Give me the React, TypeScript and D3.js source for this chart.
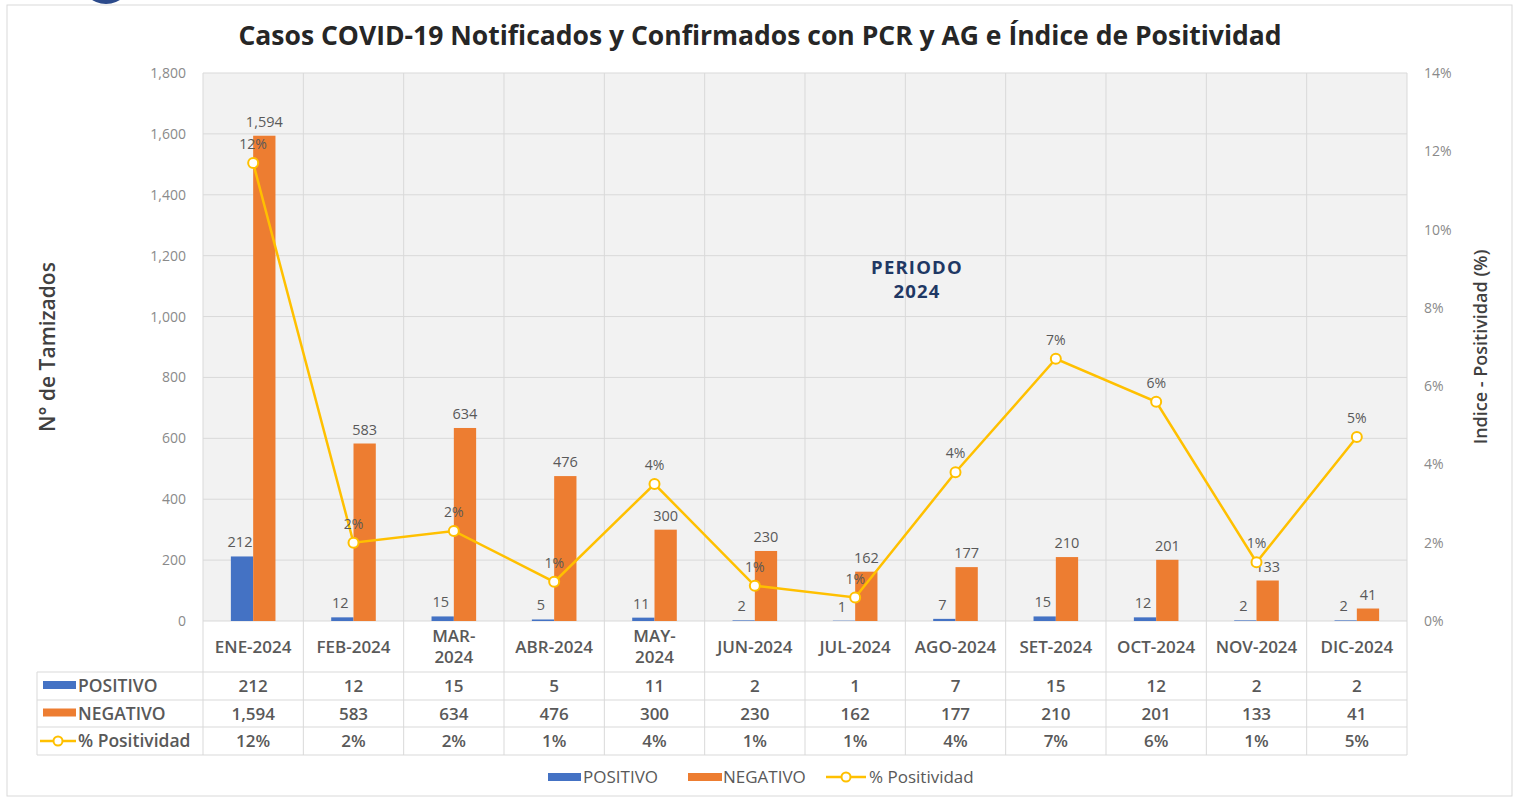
import React, { useRef, useEffect } from "react";
import * as d3 from "d3";

const months = ["ENE-2024", "FEB-2024", "MAR-2024", "ABR-2024", "MAY-2024", "JUN-2024",
  "JUL-2024", "AGO-2024", "SET-2024", "OCT-2024", "NOV-2024", "DIC-2024"];
const monthLines = [["ENE-2024"], ["FEB-2024"], ["MAR-", "2024"], ["ABR-2024"], ["MAY-", "2024"], ["JUN-2024"],
  ["JUL-2024"], ["AGO-2024"], ["SET-2024"], ["OCT-2024"], ["NOV-2024"], ["DIC-2024"]];
const positivo = [212, 12, 15, 5, 11, 2, 1, 7, 15, 12, 2, 2];
const negativo = [1594, 583, 634, 476, 300, 230, 162, 177, 210, 201, 133, 41];
const positividad = [11.7, 2.0, 2.3, 1.0, 3.5, 0.9, 0.6, 3.8, 6.7, 5.6, 1.5, 4.7];
const positividadLabels = ["12%", "2%", "2%", "1%", "4%", "1%", "1%", "4%", "7%", "6%", "1%", "5%"];
const leftTicks = [0, 200, 400, 600, 800, 1000, 1200, 1400, 1600, 1800];
const rightTicks = [0, 2, 4, 6, 8, 10, 12, 14];

const BLUE = "#4472c4";
const ORANGE = "#ed7d31";
const GOLD = "#ffc000";
const FONT = "'Open Sans', Lato, sans-serif";

const App = () => {
  const svgRef = useRef<SVGSVGElement>(null);

  useEffect(() => {
    document.body.style.margin = "0";
    const svg = d3.select(svgRef.current);
    svg.selectAll("*").remove();

    const left = 203, right = 1407, top = 73, bottom = 621;
    const x = d3.scaleBand<string>().domain(months).range([left, right]);
    const bw = x.bandwidth();
    const xs = d3.scaleBand<string>().domain(["p", "n"]).range([0, bw]).paddingOuter(1.25);
    const y = d3.scaleLinear().domain([0, 1800]).range([bottom, top]);
    const yR = d3.scaleLinear().domain([0, 14]).range([bottom, top]);
    const cx = (m: string) => (x(m) as number) + bw / 2;

    // logo fragment + frame
    svg.append("circle").attr("cx", 106).attr("cy", -22).attr("r", 26).attr("fill", "#2b4a8b");
    svg.append("rect").attr("x", 7).attr("y", 5).attr("width", 1505).attr("height", 791)
      .attr("fill", "#fff").attr("stroke", "#d9d9d9");

    svg.append("text").attr("x", 760).attr("y", 45).attr("text-anchor", "middle")
      .attr("font-family", FONT).attr("font-weight", "bold").attr("font-size", 26.5).attr("fill", "#262626")
      .text("Casos COVID-19 Notificados y Confirmados con PCR y AG e Índice de Positividad");

    // plot area
    svg.append("rect").attr("x", left).attr("y", top).attr("width", right - left).attr("height", bottom - top)
      .attr("fill", "#f2f2f2");
    svg.append("g").selectAll("line").data(leftTicks).join("line")
      .attr("x1", left).attr("x2", right).attr("y1", (d) => y(d)).attr("y2", (d) => y(d))
      .attr("stroke", "#d9d9d9");
    const bounds = months.map((m) => x(m) as number).concat([right]);
    svg.append("g").selectAll("line").data(bounds).join("line")
      .attr("x1", (d) => d).attr("x2", (d) => d).attr("y1", top).attr("y2", 755)
      .attr("stroke", "#d9d9d9");

    // axes labels
    svg.append("g").selectAll("text").data(leftTicks).join("text")
      .attr("x", 186).attr("y", (d) => y(d) + 5).attr("text-anchor", "end")
      .attr("font-family", FONT).attr("font-size", 14).attr("fill", "#8a8a8a")
      .text((d) => d3.format(",")(d));
    svg.append("g").selectAll("text").data(rightTicks).join("text")
      .attr("x", 1424).attr("y", (d) => yR(d) + 5).attr("text-anchor", "start")
      .attr("font-family", FONT).attr("font-size", 14).attr("fill", "#8a8a8a")
      .text((d) => d + "%");
    svg.append("text").attr("transform", "translate(55,347) rotate(-90)").attr("text-anchor", "middle")
      .attr("font-family", FONT).attr("font-weight", 600).attr("font-size", 21).attr("fill", "#404040")
      .text("N° de Tamizados");
    svg.append("text").attr("transform", "translate(1487,347) rotate(-90)").attr("text-anchor", "middle")
      .attr("font-family", FONT).attr("font-weight", 600).attr("font-size", 18).attr("fill", "#404040")
      .text("Indice - Positividad (%)");

    // bars
    const g = svg.append("g");
    g.selectAll("rect.p").data(months).join("rect").attr("class", "p")
      .attr("x", (m) => (x(m) as number) + (xs("p") as number)).attr("width", xs.bandwidth())
      .attr("y", (m, i) => y(positivo[i])).attr("height", (m, i) => bottom - y(positivo[i]))
      .attr("fill", BLUE);
    g.selectAll("rect.n").data(months).join("rect").attr("class", "n")
      .attr("x", (m) => (x(m) as number) + (xs("n") as number)).attr("width", xs.bandwidth())
      .attr("y", (m, i) => y(negativo[i])).attr("height", (m, i) => bottom - y(negativo[i]))
      .attr("fill", ORANGE);
    g.selectAll("text.pl").data(months).join("text").attr("class", "pl")
      .attr("x", (m) => (x(m) as number) + (xs("p") as number) + xs.bandwidth() / 2 - 2)
      .attr("y", (m, i) => y(positivo[i]) - 9).attr("text-anchor", "middle")
      .attr("font-family", FONT).attr("font-size", 14.5).attr("fill", "#595959")
      .text((m, i) => d3.format(",")(positivo[i]));
    g.selectAll("text.nl").data(months).join("text").attr("class", "nl")
      .attr("x", (m) => (x(m) as number) + (xs("n") as number) + xs.bandwidth() / 2)
      .attr("y", (m, i) => y(negativo[i]) - 9).attr("text-anchor", "middle")
      .attr("font-family", FONT).attr("font-size", 14.5).attr("fill", "#595959")
      .text((m, i) => d3.format(",")(negativo[i]));

    // line
    const line = d3.line<number>().x((d, i) => cx(months[i])).y((d) => yR(d));
    g.append("path").datum(positividad).attr("d", line).attr("fill", "none")
      .attr("stroke", GOLD).attr("stroke-width", 2.5);
    g.selectAll("circle").data(positividad).join("circle")
      .attr("cx", (d, i) => cx(months[i])).attr("cy", (d) => yR(d)).attr("r", 5)
      .attr("fill", "#fff").attr("stroke", GOLD).attr("stroke-width", 2);
    g.selectAll("text.ll").data(positividad).join("text").attr("class", "ll")
      .attr("x", (d, i) => cx(months[i])).attr("y", (d) => yR(d) - 14).attr("text-anchor", "middle")
      .attr("font-family", FONT).attr("font-size", 14).attr("fill", "#595959")
      .text((d, i) => positividadLabels[i]);

    svg.append("text").attr("x", 917).attr("y", 274).attr("text-anchor", "middle")
      .attr("font-family", FONT).attr("font-weight", "bold").attr("font-size", 18.5).attr("letter-spacing", 1.2)
      .attr("fill", "#1f3864").text("PERIODO");
    svg.append("text").attr("x", 917).attr("y", 298).attr("text-anchor", "middle")
      .attr("font-family", FONT).attr("font-weight", "bold").attr("font-size", 18.5).attr("letter-spacing", 1.2)
      .attr("fill", "#1f3864").text("2024");

    // data table
    const t = svg.append("g").attr("font-family", FONT).attr("font-weight", 600).attr("fill", "#595959");
    monthLines.forEach((lines, i) => {
      const tx = t.append("text").attr("x", cx(months[i])).attr("text-anchor", "middle").attr("font-size", 17);
      const y0 = lines.length === 1 ? 653 : 642;
      lines.forEach((l, j) => tx.append("tspan").attr("x", cx(months[i])).attr("y", y0 + j * 21).text(l));
    });
    const rowY = [672, 700, 727, 755];
    t.selectAll("line.h").data(rowY).join("line").attr("class", "h")
      .attr("x1", 37).attr("x2", right).attr("y1", (d) => d).attr("y2", (d) => d)
      .attr("stroke", "#d9d9d9");
    t.append("line").attr("x1", 37).attr("x2", 37).attr("y1", 672).attr("y2", 755).attr("stroke", "#d9d9d9");
    const rows = [
      { name: "POSITIVO", vals: positivo.map((v) => d3.format(",")(v)) },
      { name: "NEGATIVO", vals: negativo.map((v) => d3.format(",")(v)) },
      { name: "% Positividad", vals: positividadLabels },
    ];
    rows.forEach((r, k) => {
      const ry = (rowY[k] + rowY[k + 1]) / 2;
      if (k < 2) {
        t.append("rect").attr("x", 43).attr("y", ry - 5).attr("width", 33).attr("height", 8)
          .attr("fill", k === 0 ? BLUE : ORANGE);
      } else {
        t.append("line").attr("x1", 40).attr("x2", 76).attr("y1", ry).attr("y2", ry)
          .attr("stroke", GOLD).attr("stroke-width", 2.5);
        t.append("circle").attr("cx", 58).attr("cy", ry).attr("r", 4.5)
          .attr("fill", "#fff").attr("stroke", GOLD).attr("stroke-width", 2);
      }
      t.append("text").attr("x", 78).attr("y", ry + 6).attr("font-size", 17.5).text(r.name);
      r.vals.forEach((v, i) => {
        t.append("text").attr("x", cx(months[i])).attr("y", ry + 6).attr("text-anchor", "middle")
          .attr("font-size", 17).text(v);
      });
    });

    // legend
    const lg = svg.append("g").attr("font-family", FONT).attr("font-size", 17).attr("fill", "#595959");
    lg.append("rect").attr("x", 548).attr("y", 773).attr("width", 33).attr("height", 8).attr("fill", BLUE);
    lg.append("text").attr("x", 583).attr("y", 783).text("POSITIVO");
    lg.append("rect").attr("x", 688).attr("y", 773).attr("width", 34).attr("height", 8).attr("fill", ORANGE);
    lg.append("text").attr("x", 723).attr("y", 783).text("NEGATIVO");
    lg.append("line").attr("x1", 826).attr("x2", 866).attr("y1", 777).attr("y2", 777)
      .attr("stroke", GOLD).attr("stroke-width", 2.5);
    lg.append("circle").attr("cx", 846).attr("cy", 777).attr("r", 4.5)
      .attr("fill", "#fff").attr("stroke", GOLD).attr("stroke-width", 2);
    lg.append("text").attr("x", 869).attr("y", 783).text("% Positividad");
  }, []);

  return <svg ref={svgRef} width={1517} height={800} style={{ display: "block" }} />;
};

export default App;
